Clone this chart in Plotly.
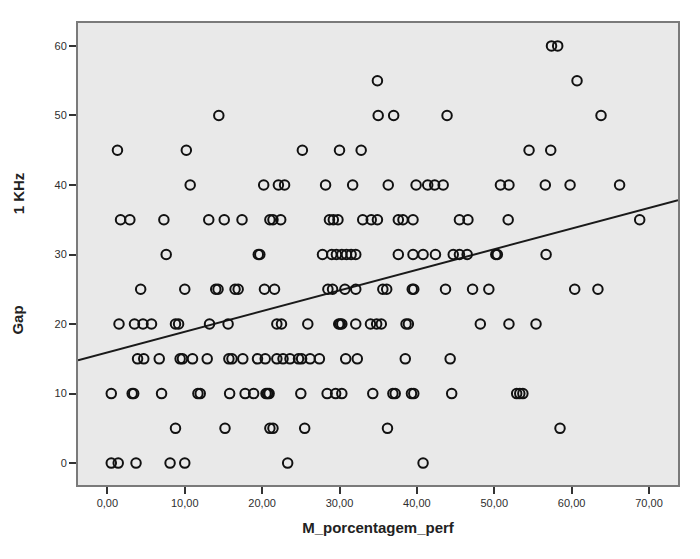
import numpy as np
import plotly.graph_objects as go

# Data (x: M_porcentagem_perf, y: Gap 1 KHz)
x_60 = [57.4, 58.2]
x_55 = [34.9, 60.7]
x_50 = [14.4, 35.0, 37.0, 43.9, 63.8]
x_45 = [1.3, 10.2, 25.2, 30.0, 32.8, 54.5, 57.3]
x_40 = [10.7, 20.2, 22.1, 22.9, 28.2, 31.7, 36.3, 39.9, 41.4, 42.3, 43.4, 50.8, 51.9, 56.6, 59.8, 66.2]
x_35 = [1.7, 2.9, 7.3, 13.1, 15.1, 17.4, 21.0, 21.4, 22.4, 28.7, 29.2, 29.8, 33.0, 34.1, 34.9,
        37.6, 38.2, 39.5, 45.5, 46.6, 51.8, 68.8]
x_30 = [7.6, 19.5, 19.7, 27.8, 29.0, 29.6, 30.3, 30.9, 31.5, 32.1, 37.6, 39.5, 40.8, 42.4, 44.7,
        45.5, 46.5, 50.2, 50.4, 56.7]
x_25 = [4.3, 10.0, 14.0, 14.3, 16.5, 16.9, 20.3, 21.6, 28.5, 29.1, 30.7, 32.1, 35.6, 36.1, 39.4,
        39.6, 43.7, 47.2, 49.3, 60.4, 63.4]
x_20 = [1.5, 3.5, 4.6, 5.7, 8.8, 9.2, 13.2, 15.6, 21.9, 22.5, 25.9, 29.9, 30.1, 30.3, 32.1, 34.0,
        34.8, 35.4, 38.6, 38.9, 48.2, 51.9, 55.4]
x_15 = [3.9, 4.7, 6.7, 9.4, 9.7, 11.0, 12.9, 15.7, 16.1, 17.5, 19.4, 20.4, 21.9, 22.7, 23.6, 24.7,
        25.1, 26.2, 27.4, 30.8, 32.3, 38.5, 44.3]
x_10 = [0.5, 3.2, 3.4, 7.0, 11.7, 12.0, 15.8, 17.8, 18.9, 20.5, 20.7, 20.9, 25.0, 28.4, 29.5, 30.3,
        34.3, 36.9, 37.2, 39.3, 39.6, 44.5, 52.9, 53.3, 53.7]
x_05 = [8.8, 15.2, 21.0, 21.4, 25.5, 36.2, 58.5]
x_00 = [0.5, 1.4, 3.7, 8.1, 10.0, 23.3, 40.8]

gap_levels = [60, 55, 50, 45, 40, 35, 30, 25, 20, 15, 10, 5, 0]
x_groups = [x_60, x_55, x_50, x_45, x_40, x_35, x_30, x_25, x_20, x_15, x_10, x_05, x_00]

x_tick_vals = [0, 10, 20, 30, 40, 50, 60, 70]
x_tick_text = ["0,00", "10,00", "20,00", "30,00", "40,00", "50,00", "60,00", "70,00"]
y_tick_vals = [0, 10, 20, 30, 40, 50, 60]

xs = []
ys = []
for lvl, grp in zip(gap_levels, x_groups):
    xs.extend(grp)
    ys.extend([lvl] * len(grp))
xs = np.array(xs)
ys = np.array(ys, dtype=float)

slope, intercept = np.polyfit(xs, ys, 1)
x_range = [-3.8, 73.75]
y_range = [-3.15, 63.3]
line_x = np.array(x_range)
line_y = intercept + slope * line_x

fig = go.Figure()
fig.add_trace(go.Scatter(
    x=line_x, y=line_y, mode="lines",
    line=dict(color="#1a1a1a", width=2), hoverinfo="skip", showlegend=False))
fig.add_trace(go.Scatter(
    x=xs, y=ys, mode="markers",
    marker=dict(symbol="circle-open", size=9.5, color="#111111", line=dict(width=2, color="#111111")),
    showlegend=False))

axis_font = dict(family="Liberation Sans, Arial, sans-serif", size=11, color="#2e2e2e")
fig.update_layout(
    width=700, height=559,
    margin=dict(l=70, r=30, t=15, b=82),
    paper_bgcolor="white",
    plot_bgcolor="#e9e9e9",
    xaxis=dict(range=x_range, tickvals=x_tick_vals, ticktext=x_tick_text,
               showgrid=False, zeroline=False, ticks="outside", ticklen=7, tickwidth=2,
               tickcolor="#333333", tickfont=axis_font,
               showline=True, linecolor="#7a7a7a", linewidth=2, mirror=True,
               title=dict(text="<b>M_porcentagem_perf</b>",
                          font=dict(family="Liberation Sans, Arial, sans-serif", size=15, color="#222222"),
                          standoff=14)),
    yaxis=dict(range=y_range, tickvals=y_tick_vals,
               showgrid=False, zeroline=False, ticks="outside", ticklen=7, tickwidth=2,
               tickcolor="#333333", tickfont=axis_font,
               showline=True, linecolor="#7a7a7a", linewidth=2, mirror=True),
)
title_font = dict(family="Liberation Sans, Arial, sans-serif", size=15, color="#222222")
fig.add_annotation(text="<b>Gap</b>", textangle=-90, xref="paper", yref="y",
                   x=-0.1, y=20.5, showarrow=False, font=title_font, xanchor="center")
fig.add_annotation(text="<b>1 KHz</b>", textangle=-90, xref="paper", yref="y",
                   x=-0.1, y=38.8, showarrow=False, font=title_font, xanchor="center")

fig.write_html("out.html")
